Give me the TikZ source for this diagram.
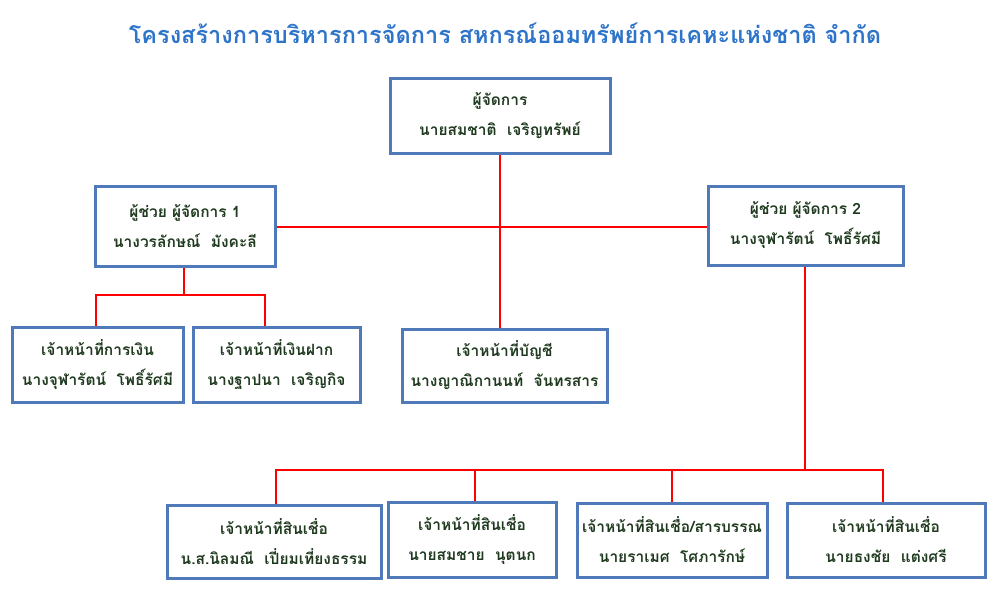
\documentclass[tikz,border=0pt]{standalone}
\usepackage{fontspec}
\newfontfamily\thai[Script=Thai]{Loma}
\definecolor{bx}{HTML}{4F79B8}
\definecolor{tx}{HTML}{1F3A1F}
\definecolor{tt}{HTML}{2E74C9}
\begin{document}
\begin{tikzpicture}[x=1pt,y=-1pt,
 box/.style={draw=bx,line width=3pt,fill=white,align=center,text=tx,font=\thai\bfseries\fontsize{15.5}{30}\selectfont,inner sep=0pt},
 ln/.style={draw=red,line width=2pt}]
\useasboundingbox (0,0) rectangle (1000,600);
\node[text=tt,font=\thai\bfseries\fontsize{23.5}{28}\selectfont] (title) at (505,33) {โครงสร้างการบริหารการจัดการ สหกรณ์ออมทรัพย์การเคหะแห่งชาติ จำกัด};
\newcommand\bx[6]{\node[box,minimum width=#4-#3,minimum height=#6-#5] (#1) at ({(#3+#4)/2},{(#5+#6)/2}) {#2};}
\coordinate (m1) at (500,227);
\coordinate (a1) at (184,295);
\coordinate (a2) at (805,470); \coordinate (c2) at (475,470); \coordinate (c3) at (672,470);
\draw[ln] (500,153) -- (500,330);
\draw[ln] (275,227) -- (708,227);
\draw[ln] (184,266) -- (a1);
\draw[ln] (96,327) |- (a1) -| (265,327);
\draw[ln] (805,265) -- (a2);
\draw[ln] (276,505) |- (a2);
\draw[ln] (a2) -| (883,503);
\draw[ln] (c2) -- (475,502);
\draw[ln] (c3) -- (672,503);
\bx{mgr}{ผู้จัดการ\\นายสมชาติ\ \ เจริญทรัพย์}{390}{610}{78}{153}
\bx{as1}{ผู้ช่วย ผู้จัดการ 1\\นางวรลักษณ์\ \ มังคะลี}{95}{275}{186}{266}
\bx{as2}{ผู้ช่วย ผู้จัดการ 2\\นางจุฬารัตน์\ \ โพธิ์รัศมี}{708}{903}{186}{265}
\bx{fin}{เจ้าหน้าที่การเงิน\\นางจุฬารัตน์\ \ โพธิ์รัศมี}{12}{183}{327}{402}
\bx{dep}{เจ้าหน้าที่เงินฝาก\\นางฐาปนา\ \ เจริญกิจ}{193}{360}{327}{402}
\bx{acc}{เจ้าหน้าที่บัญชี\\นางญาณิกานนท์\ \ จันทรสาร}{402}{607}{329}{402}
\bx{cr1}{เจ้าหน้าที่สินเชื่อ\\น.ส.นิลมณี\ \ เปี่ยมเที่ยงธรรม}{167}{381}{505}{578}
\bx{cr2}{เจ้าหน้าที่สินเชื่อ\\นายสมชาย\ \ นุตนก}{388}{556}{502}{577}
\bx{cr3}{เจ้าหน้าที่สินเชื่อ/สารบรรณ\\นายราเมศ\ \ โศภารักษ์}{577}{767}{503}{577}
\bx{cr4}{เจ้าหน้าที่สินเชื่อ\\นายธงชัย\ \ แต่งศรี}{787}{985}{503}{577}
\end{tikzpicture}
\end{document}
